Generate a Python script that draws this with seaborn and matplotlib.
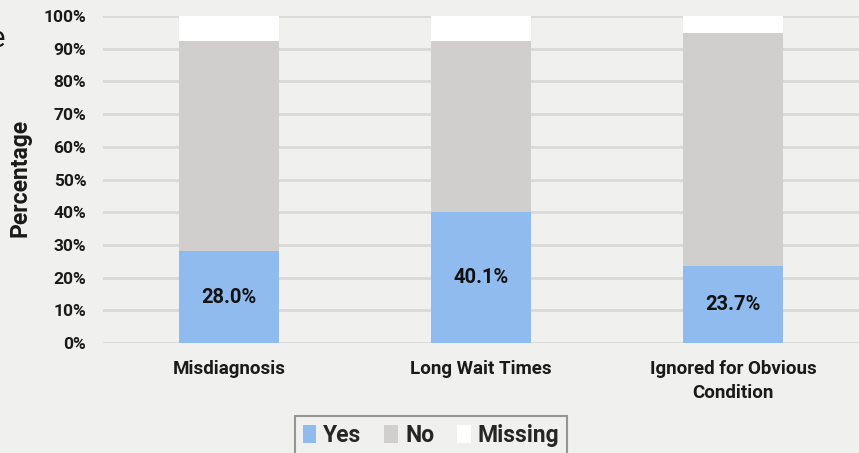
import numpy as np
import pandas as pd
import matplotlib
matplotlib.use("Agg")
import matplotlib.pyplot as plt
from matplotlib.patches import Patch
import seaborn as sns

# Survey responses by experience type (percent of respondents)
categories = ["Misdiagnosis", "Long Wait Times", "Ignored for Obvious\nCondition"]
yes_pct = [28.0, 40.1, 23.7]
no_pct = [64.4, 52.3, 71.0]
missing_pct = [7.6, 7.6, 5.3]

y_ticks = [0, 10, 20, 30, 40, 50, 60, 70, 80, 90, 100]

BG = "#f0f0ef"
C_YES = "#8fbbef"
C_NO = "#d0cfce"
C_MISS = "#ffffff"
GRID = "#d9d9d9"

sns.set_theme(style="white")
plt.rcParams["font.family"] = ["Roboto", "DejaVu Sans"]

df = pd.DataFrame({
    "category": categories,
    "yes": yes_pct,
    "no": no_pct,
    "missing": missing_pct,
})
df["yes_no"] = df["yes"] + df["no"]
df["total"] = df["yes_no"] + df["missing"]

fig = plt.figure(figsize=(8.59, 4.53), dpi=100, facecolor=BG)
ax = fig.add_axes([103 / 859, 1 - 343 / 453, 756 / 859, 327 / 453])
ax.set_facecolor(BG)

bw = 100 / 252
# stacked segments drawn back to front as cumulative heights
for col, colour, z in [("total", C_MISS, 2), ("yes_no", C_NO, 3), ("yes", C_YES, 4)]:
    sns.barplot(data=df, x="category", y=col, color=colour, width=bw,
                saturation=1, linewidth=0, ax=ax, zorder=z)

for i, v in enumerate(yes_pct):
    ax.text(i, v / 2, f"{v:.1f}%", ha="center", va="center",
            fontsize=14.5, fontweight="bold", color="#111111", zorder=5)

ax.set_xlim(-0.5, 2.5)
ax.set_ylim(0, 100)
ax.set_yticks(y_ticks)
ax.set_yticklabels([f"{t}%" for t in y_ticks], fontsize=12.5, fontweight="bold",
                   color="#1a1a1a")
ax.set_xticks(range(len(categories)))
ax.set_xticklabels(categories, fontsize=13.5, fontweight="bold", color="#1a1a1a",
                   linespacing=1.45)
ax.tick_params(axis="y", length=0, pad=12)
ax.tick_params(axis="x", length=0, pad=12)
ax.yaxis.grid(True, color=GRID, linewidth=2, zorder=0)
ax.set_axisbelow(True)
for s in ax.spines.values():
    s.set_visible(False)

ax.set_xlabel("")
ax.set_ylabel("")
fig.text(20 / 859, 1 - 178 / 453, "Percentage", rotation=90, ha="center",
         va="center", fontsize=16.5, fontweight="bold", color="#1a1a1a")

fig.text(5.5 / 859, 1 - 47 / 453, "e", ha="right", va="baseline",
         fontsize=21, color="#1a1a1a")

handles = [Patch(facecolor=C_YES, edgecolor="none", label="Yes"),
           Patch(facecolor=C_NO, edgecolor="none", label="No"),
           Patch(facecolor=C_MISS, edgecolor="none", label="Missing")]
leg = fig.legend(handles=handles, loc="upper center",
                 bbox_to_anchor=(431 / 859, 1 - 416 / 453), ncol=3,
                 frameon=True, fancybox=False,
                 prop={"weight": "bold", "size": 16.5},
                 handlelength=0.6, handleheight=0.8, handletextpad=0.3,
                 columnspacing=1.0, borderpad=0.35, borderaxespad=0)
leg.get_frame().set_facecolor(BG)
leg.get_frame().set_edgecolor("#7f7f7f")
leg.get_frame().set_linewidth(1.5)

fig.savefig("out.png", dpi=100, facecolor=BG)
